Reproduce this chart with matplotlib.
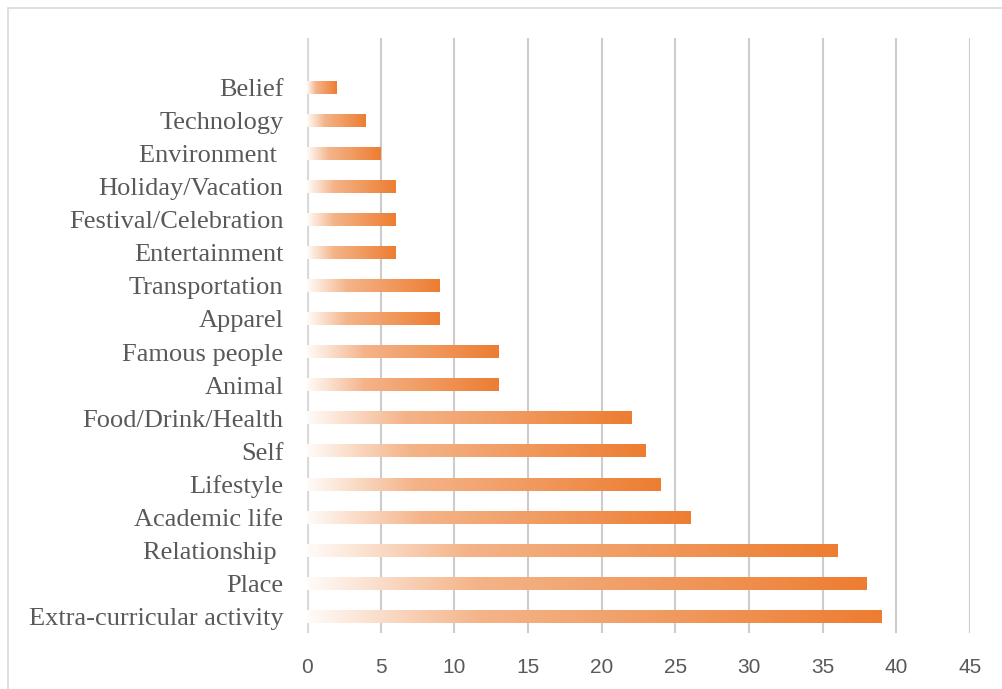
import numpy as np
import matplotlib.pyplot as plt
from matplotlib.colors import LinearSegmentedColormap
from matplotlib.patches import Rectangle

categories = ['Extra-curricular activity', 'Place', 'Relationship ', 'Academic life',
              'Lifestyle', 'Self', 'Food/Drink/Health', 'Animal', 'Famous people',
              'Apparel', 'Transportation', 'Entertainment', 'Festival/Celebration',
              'Holiday/Vacation', 'Environment ', 'Technology', 'Belief']
values = [39, 38, 36, 26, 24, 23, 22, 13, 13, 9, 9, 6, 6, 6, 5, 4, 2]
xticks = [0, 5, 10, 15, 20, 25, 30, 35, 40, 45]

fig = plt.figure(figsize=(10.02, 6.89), dpi=100)
fig.patches.append(Rectangle((8 / 1002, -0.1), 1.2, 1.1 - 8 / 689, transform=fig.transFigure,
                             fill=False, edgecolor='#d9d9d9', linewidth=1.2))
ax = fig.add_axes([307 / 1002, 1 - 633 / 689, (970 - 307) / 1002, (633 - 38) / 689])

cmap = LinearSegmentedColormap.from_list('grad', [(0, '#fffbf8'), (0.3, '#f4b489'), (1, '#ed7d31')])
grad = np.linspace(0, 1, 256).reshape(1, -1)
h = 0.38
y = np.arange(len(categories))
for yi, v in zip(y, values):
    ax.imshow(grad, cmap=cmap, aspect='auto', extent=(0, v, yi - h / 2, yi + h / 2),
              interpolation='bilinear', zorder=3)

for t in xticks[1:]:
    ax.axvline(t, color='#cccccc', linewidth=1.5, zorder=1)
ax.axvline(0, color='#d9d9d9', linewidth=3, zorder=2)

ax.set_xlim(0, 45)
ax.set_ylim(-0.5, 17.5)
ax.set_xticks(xticks)
ax.set_yticks(y)
ax.set_yticklabels(categories, family='Liberation Serif', fontsize=19, color='#595959')
ax.tick_params(axis='y', length=0, pad=17)
ax.tick_params(axis='x', length=0, pad=18, labelsize=15, labelcolor='#595959')
for lab in ax.get_xticklabels():
    lab.set_family('Liberation Sans')
for s in ax.spines.values():
    s.set_visible(False)

fig.savefig('out.png', dpi=100)
